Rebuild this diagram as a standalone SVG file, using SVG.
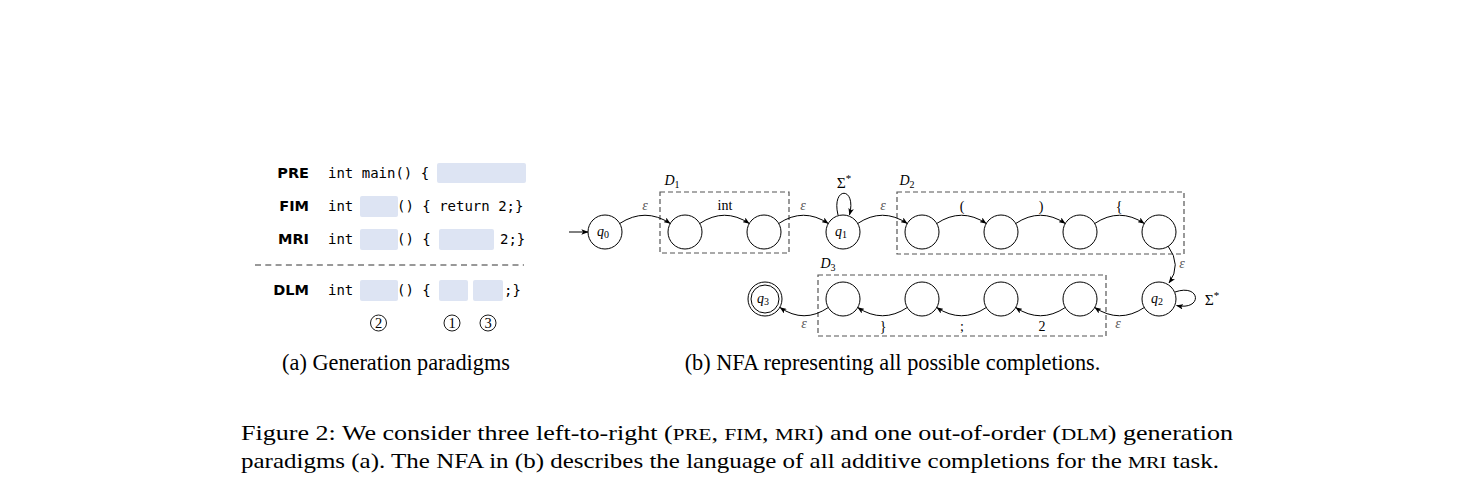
<svg xmlns="http://www.w3.org/2000/svg" width="1470" height="480" viewBox="0 0 1470 480">
<style>
.bg{fill:#ffffff}
.lab{font-family:"DejaVu Sans",sans-serif;font-weight:bold;font-size:14.5px;fill:#000;text-anchor:end}
.code{font-family:"DejaVu Sans Mono",monospace;font-size:14px;fill:#000}
.hole{fill:#dde4f3}
.cnum{fill:none;stroke:#000;stroke-width:0.9}
.cdig{font-family:"Liberation Serif",serif;font-size:14.5px;fill:#000;text-anchor:middle}
.cap{font-family:"Liberation Serif",serif;font-size:22.3px;fill:#000}
.mcap{font-family:"Liberation Serif",serif;font-size:21px;fill:#000}
.sc{font-size:17px}
.st{fill:#fff;stroke:#000;stroke-width:1}
.box{fill:none;stroke:#555;stroke-width:1.2;stroke-dasharray:5 3}
.edge{fill:none;stroke:#000;stroke-width:1}
.ql{font-family:"Liberation Serif",serif;font-style:italic;font-size:14px;fill:#000;text-anchor:middle}
.el{font-family:"Liberation Serif",serif;font-size:14px;fill:#000;text-anchor:middle}
.sig{font-family:"Liberation Serif",serif;font-size:15.5px;fill:#000;text-anchor:middle}
.sup{font-size:11px}
.eps{font-family:"Liberation Serif",serif;font-style:italic;font-size:14px;fill:#555;text-anchor:middle}
.sub{font-size:10px;font-style:normal}
</style>
<defs>
<marker id="ah" viewBox="0 0 10 8" refX="9.5" refY="4" markerWidth="7" markerHeight="5.6" markerUnits="userSpaceOnUse" orient="auto">
<path d="M0,0 L10,4 L0,8 L2.5,4 z" fill="#000"/>
</marker>
</defs>
<rect class="bg" x="0" y="0" width="1470" height="480"/>

<!-- Panel (a) -->
<g id="panel-a">
<g id="row-pre">
<text class="lab" x="309" y="178">PRE</text>
<text class="code" x="328" y="178">int main() {</text>
<rect class="hole" x="437" y="163" width="89" height="20" rx="2"/>
</g>
<g id="row-fim">
<text class="lab" x="309" y="211">FIM</text>
<text class="code" x="328" y="211">int</text>
<rect class="hole" x="360" y="196" width="38" height="21" rx="2"/>
<text class="code" x="397" y="211">() { return 2;}</text>
</g>
<g id="row-mri">
<text class="lab" x="309" y="244">MRI</text>
<text class="code" x="328" y="244">int</text>
<rect class="hole" x="360" y="229" width="38" height="21" rx="2"/>
<text class="code" x="397" y="244">() {</text>
<rect class="hole" x="439" y="229" width="55" height="21" rx="2"/>
<text class="code" x="500" y="244">2;}</text>
</g>
<line x1="255" y1="265" x2="524" y2="265" stroke="#333" stroke-width="1" stroke-dasharray="6 4.3"/>
<g id="row-dlm">
<text class="lab" x="309" y="295">DLM</text>
<text class="code" x="328" y="295">int</text>
<rect class="hole" x="360" y="280" width="38" height="21" rx="2"/>
<text class="code" x="397" y="295">() {</text>
<rect class="hole" x="439" y="280" width="29" height="21" rx="2"/>
<rect class="hole" x="473" y="280" width="30" height="21" rx="2"/>
<text class="code" x="504" y="295">;}</text>
</g>
<g id="order">
<circle class="cnum" cx="378.5" cy="323" r="8"/><text class="cdig" x="378.5" y="328">2</text>
<circle class="cnum" cx="452" cy="323" r="8"/><text class="cdig" x="452" y="328">1</text>
<circle class="cnum" cx="488" cy="323" r="8"/><text class="cdig" x="488" y="328">3</text>
</g>
<text class="cap" x="396" y="370" text-anchor="middle">(a) Generation paradigms</text>
</g>

<!-- Panel (b) -->
<g id="panel-b">
<g id="boxes">
<rect class="box" x="660" y="192" width="129" height="61"/>
<text class="ql" x="672" y="185">D<tspan class="sub" dy="3">1</tspan></text>
<rect class="box" x="897" y="192" width="287" height="62"/>
<text class="ql" x="907" y="185">D<tspan class="sub" dy="3">2</tspan></text>
<rect class="box" x="818" y="275" width="288" height="61"/>
<text class="ql" x="828" y="268">D<tspan class="sub" dy="3">3</tspan></text>
</g>

<g id="connectors">
<line class="edge" x1="569" y1="232" x2="588" y2="232" marker-end="url(#ah)"/>
<path class="edge" d="M619.7,223.5 Q645,207 670.3,223.5" marker-end="url(#ah)"/>
<path class="edge" d="M699.7,223.5 Q724.5,207 749.3,223.5" marker-end="url(#ah)"/>
<path class="edge" d="M778.7,223.5 Q803.5,207 828.3,223.5" marker-end="url(#ah)"/>
<path class="edge" d="M838,215 C831,186 857,186 849.5,215" marker-end="url(#ah)"/>
<path class="edge" d="M857.7,223.5 Q882.5,207 907.3,223.5" marker-end="url(#ah)"/>
<path class="edge" d="M936.7,223.5 Q961.5,207 986.3,223.5" marker-end="url(#ah)"/>
<path class="edge" d="M1015.7,223.5 Q1040.5,207 1065.3,223.5" marker-end="url(#ah)"/>
<path class="edge" d="M1094.7,223.5 Q1119.5,207 1144.3,223.5" marker-end="url(#ah)"/>
<path class="edge" d="M1168,246 Q1182,265 1169,283" marker-end="url(#ah)"/>
<path class="edge" d="M1175,292 C1201,283 1203,311 1176.5,305.5" marker-end="url(#ah)"/>
<path class="edge" d="M1144.3,307.5 Q1119.5,324 1094.7,307.5" marker-end="url(#ah)"/>
<path class="edge" d="M1065.3,307.5 Q1040.5,324 1015.7,307.5" marker-end="url(#ah)"/>
<path class="edge" d="M986.3,307.5 Q961.5,324 936.7,307.5" marker-end="url(#ah)"/>
<path class="edge" d="M907.3,307.5 Q882.5,324 857.7,307.5" marker-end="url(#ah)"/>
<path class="edge" d="M828.3,307.5 Q804,324 780,307.5" marker-end="url(#ah)"/>
</g>

<g id="edge-labels">
<text class="eps" x="645" y="210">ε</text>
<text class="el" x="725" y="210">int</text>
<text class="eps" x="803" y="210">ε</text>
<text class="sig" x="844" y="188">Σ<tspan class="sup" dy="-6">*</tspan></text>
<text class="eps" x="883" y="210">ε</text>
<text class="el" x="962" y="211">(</text>
<text class="el" x="1041" y="211">)</text>
<text class="el" x="1119" y="211">{</text>
<text class="eps" x="1182" y="268">ε</text>
<text class="sig" x="1212" y="305">Σ<tspan class="sup" dy="-6">*</tspan></text>
<text class="eps" x="1118" y="328">ε</text>
<text class="el" x="1042" y="331">2</text>
<text class="el" x="962" y="331">;</text>
<text class="el" x="883" y="331">}</text>
<text class="eps" x="804" y="328">ε</text>
</g>

<g id="q0"><circle class="st" cx="605" cy="232" r="17"/><text class="ql" x="603" y="236">q<tspan class="sub" dy="2">0</tspan></text></g>
<g id="d1a"><circle class="st" cx="685" cy="232" r="17"/></g>
<g id="d1b"><circle class="st" cx="764" cy="232" r="17"/></g>
<g id="q1"><circle class="st" cx="843" cy="232" r="17"/><text class="ql" x="841" y="236">q<tspan class="sub" dy="2">1</tspan></text></g>
<g id="d2a"><circle class="st" cx="922" cy="232" r="17"/></g>
<g id="d2b"><circle class="st" cx="1001" cy="232" r="17"/></g>
<g id="d2c"><circle class="st" cx="1080" cy="232" r="17"/></g>
<g id="d2d"><circle class="st" cx="1159" cy="232" r="17"/></g>
<g id="q2"><circle class="st" cx="1159" cy="299" r="17"/><text class="ql" x="1157" y="303">q<tspan class="sub" dy="2">2</tspan></text></g>
<g id="d3d"><circle class="st" cx="1080" cy="299" r="17"/></g>
<g id="d3c"><circle class="st" cx="1001" cy="299" r="17"/></g>
<g id="d3b"><circle class="st" cx="922" cy="299" r="17"/></g>
<g id="d3a"><circle class="st" cx="843" cy="299" r="17"/></g>
<g id="q3"><circle class="st" cx="765" cy="299" r="17"/><circle class="st" cx="765" cy="299" r="14"/><text class="ql" x="763" y="303">q<tspan class="sub" dy="2">3</tspan></text></g>

<text class="cap" x="892.5" y="370" text-anchor="middle">(b) NFA representing all possible completions.</text>
</g>

<g id="caption">
<text class="mcap" x="241" y="440" textLength="992" lengthAdjust="spacingAndGlyphs">Figure 2:  We consider three left-to-right (<tspan class="sc">PRE</tspan>, <tspan class="sc">FIM</tspan>, <tspan class="sc">MRI</tspan>) and one out-of-order (<tspan class="sc">DLM</tspan>) generation</text>
<text class="mcap" x="241" y="468" textLength="978" lengthAdjust="spacingAndGlyphs">paradigms (a). The NFA in (b) describes the language of all additive completions for the <tspan class="sc">MRI</tspan> task.</text>
</g>
</svg>
